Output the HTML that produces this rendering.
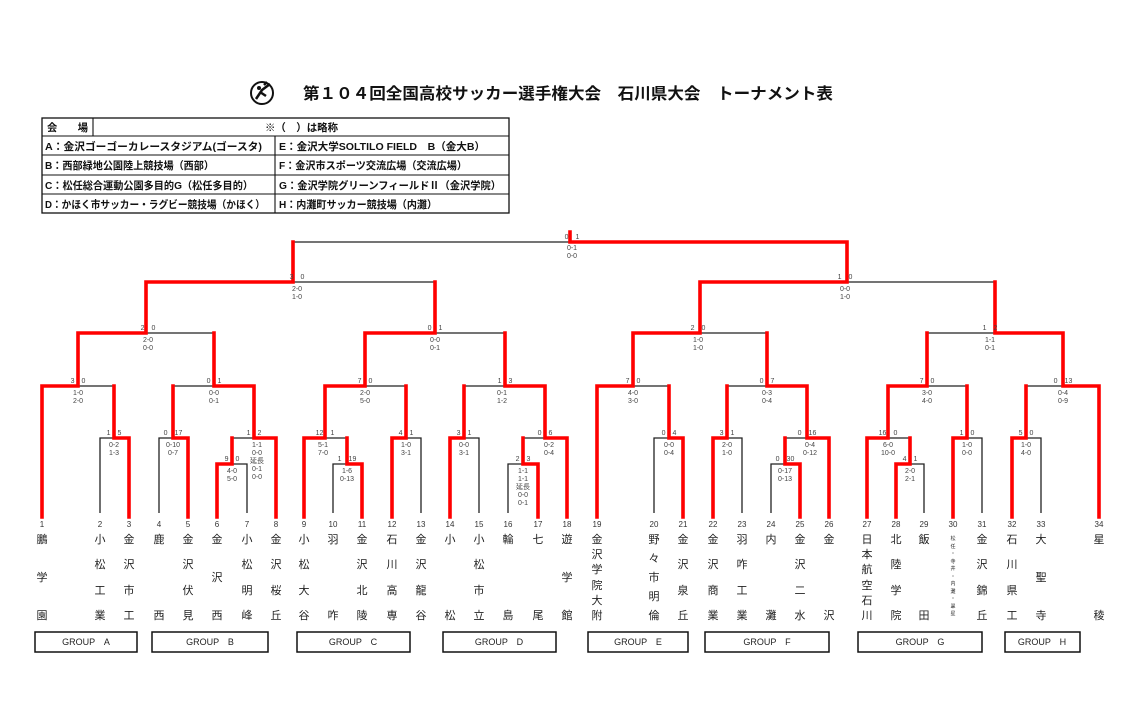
<!DOCTYPE html>
<html><head><meta charset="utf-8"><style>
body{margin:0;background:#fff;}
#w{position:relative;width:1142px;height:720px;overflow:hidden;background:#fff;font-family:"Liberation Sans","Noto Sans CJK JP",sans-serif;}
svg{position:absolute;left:0;top:0;}
.r{stroke:#f00;stroke-width:3.6;fill:none;stroke-linecap:square}
.k{stroke:#222;stroke-width:1.3;fill:none}
.s{font-size:7px;fill:#444;font-family:"Liberation Sans","Noto Sans CJK JP",sans-serif;text-anchor:middle}
.n{font-size:8px;fill:#333;text-anchor:middle}
.t{font-size:10.5px;font-weight:bold;fill:#111;font-family:"Liberation Sans","Noto Sans CJK JP",sans-serif}
.g{font-size:9px;fill:#222;text-anchor:middle}
.nm{position:absolute;top:533px;height:90px;width:16px;display:flex;flex-direction:column;justify-content:space-between;align-items:center;font-size:11px;color:#222;line-height:14px;}
.nm.tiny{font-size:5px;line-height:7px;top:536px;height:82px;}
</style></head><body><div id="w">
<svg width="1142" height="720" viewBox="0 0 1142 720">
<!-- logo -->
<circle cx="262" cy="93" r="11" fill="none" stroke="#111" stroke-width="2"/>
<path d="M256 99 L262 90 L270 84 M260 92 L266 96 M264 85 l3 -3" stroke="#111" stroke-width="2.5" fill="none"/>
<circle cx="259" cy="88" r="2" fill="#111"/>
<text x="303" y="99" font-size="16" font-weight="bold" fill="#111" textLength="530" lengthAdjust="spacingAndGlyphs" font-family="Liberation Sans, Noto Sans CJK JP, sans-serif">第１０４回全国高校サッカー選手権大会　石川県大会　トーナメント表</text>
<!-- table -->
<rect x="42" y="118" width="467" height="95" fill="none" stroke="#111" stroke-width="1.3"/>
<path d="M42 136H509M42 155H509M42 175H509M42 194H509M93 118V136M275 136V213" stroke="#111" stroke-width="1.1"/>
<text class="t" x="47" y="131" textLength="41" lengthAdjust="spacingAndGlyphs">会　　場</text>
<text class="t" x="265" y="131" textLength="73" lengthAdjust="spacingAndGlyphs">※（　）は略称</text>
<text class="t" x="45" y="150" textLength="217" lengthAdjust="spacingAndGlyphs">A：金沢ゴーゴーカレースタジアム(ゴースタ)</text>
<text class="t" x="279" y="150" textLength="206" lengthAdjust="spacingAndGlyphs">E：金沢大学SOLTILO FIELD　B（金大B）</text>
<text class="t" x="45" y="169" textLength="169" lengthAdjust="spacingAndGlyphs">B：西部緑地公園陸上競技場（西部）</text>
<text class="t" x="279" y="169" textLength="188" lengthAdjust="spacingAndGlyphs">F：金沢市スポーツ交流広場（交流広場）</text>
<text class="t" x="45" y="189" textLength="208" lengthAdjust="spacingAndGlyphs">C：松任総合運動公園多目的G（松任多目的）</text>
<text class="t" x="279" y="189" textLength="222" lengthAdjust="spacingAndGlyphs">G：金沢学院グリーンフィールドⅡ（金沢学院）</text>
<text class="t" x="45" y="208" textLength="220" lengthAdjust="spacingAndGlyphs">D：かほく市サッカー・ラグビー競技場（かほく）</text>
<text class="t" x="279" y="208" textLength="158" lengthAdjust="spacingAndGlyphs">H：内灘町サッカー競技場（内灘）</text>
<!-- black lines -->
<path class="k" d="M100 513V438H114M78 386H114M159 513V438H173M247 513V464H232M232 438H254M173 386H214M146 333H214M333 513V464H347M325 438H347M421 513V438H406M365 386H406M479 513V438H464M508 513V464H523M523 438H545M464 386H505M435 333H505M293 282H435M654 513V438H669M633 386H669M742 513V438H727M771 513V464H785M785 438H807M727 386H767M700 333H767M924 513V464H910M888 438H910M982 513V438H967M927 386H967M1041 513V438H1026M1026 386H1063M927 333H995M847 282H995M293 242H570"/>
<!-- red lines -->
<path class="r" d="M129 517V438H114V386M42 517V386H78V333M188 517V438H173V386M217 517V464H232V438M276 517V438H254V386M254 386H214V333M78 333H146V282M362 517V464H347V438M304 517V438H325V386M392 517V438H406V386M325 386H365V333M450 517V438H464V386M538 517V464H523V438M567 517V438H545V386M545 386H505V333M365 333H435V282M146 282H293V242M683 517V438H669V386M597 517V386H633V333M713 517V438H727V386M800 517V464H785V438M829 517V438H807V386M807 386H767V333M633 333H700V282M896 517V464H910V438M867 517V438H888V386M953 517V438H967V386M888 386H927V333M1012 517V438H1026V386M1099 517V386H1063V333M1063 333H995V282M700 282H847V242M847 242H570V232"/>
<!-- scores -->
<g class="s">
<text x="114" y="435">1　5</text><text x="114" y="447">0-2</text><text x="114" y="455">1-3</text>
<text x="78" y="383">3　0</text><text x="78" y="395">1-0</text><text x="78" y="403">2-0</text>
<text x="173" y="435">0　17</text><text x="173" y="447">0-10</text><text x="173" y="455">0-7</text>
<text x="232" y="461">9　0</text><text x="232" y="473">4-0</text><text x="232" y="481">5-0</text>
<text x="254" y="435">1　2</text><text x="257" y="447">1-1</text><text x="257" y="455">0-0</text><text x="257" y="463">延長</text><text x="257" y="471">0-1</text><text x="257" y="479">0-0</text>
<text x="214" y="383">0　1</text><text x="214" y="395">0-0</text><text x="214" y="403">0-1</text>
<text x="148" y="330">2　0</text><text x="148" y="342">2-0</text><text x="148" y="350">0-0</text>
<text x="347" y="461">1　19</text><text x="347" y="473">1-6</text><text x="347" y="481">0-13</text>
<text x="325" y="435">12　1</text><text x="323" y="447">5-1</text><text x="323" y="455">7-0</text>
<text x="406" y="435">4　1</text><text x="406" y="447">1-0</text><text x="406" y="455">3-1</text>
<text x="365" y="383">7　0</text><text x="365" y="395">2-0</text><text x="365" y="403">5-0</text>
<text x="464" y="435">3　1</text><text x="464" y="447">0-0</text><text x="464" y="455">3-1</text>
<text x="523" y="461">2　3</text><text x="523" y="473">1-1</text><text x="523" y="481">1-1</text><text x="523" y="489">延長</text><text x="523" y="497">0-0</text><text x="523" y="505">0-1</text>
<text x="545" y="435">0　6</text><text x="549" y="447">0-2</text><text x="549" y="455">0-4</text>
<text x="505" y="383">1　3</text><text x="502" y="395">0-1</text><text x="502" y="403">1-2</text>
<text x="435" y="330">0　1</text><text x="435" y="342">0-0</text><text x="435" y="350">0-1</text>
<text x="297" y="279">3　0</text><text x="297" y="291">2-0</text><text x="297" y="299">1-0</text>
<text x="669" y="435">0　4</text><text x="669" y="447">0-0</text><text x="669" y="455">0-4</text>
<text x="633" y="383">7　0</text><text x="633" y="395">4-0</text><text x="633" y="403">3-0</text>
<text x="727" y="435">3　1</text><text x="727" y="447">2-0</text><text x="727" y="455">1-0</text>
<text x="785" y="461">0　30</text><text x="785" y="473">0-17</text><text x="785" y="481">0-13</text>
<text x="807" y="435">0　16</text><text x="810" y="447">0-4</text><text x="810" y="455">0-12</text>
<text x="767" y="383">0　7</text><text x="767" y="395">0-3</text><text x="767" y="403">0-4</text>
<text x="698" y="330">2　0</text><text x="698" y="342">1-0</text><text x="698" y="350">1-0</text>
<text x="910" y="461">4　1</text><text x="910" y="473">2-0</text><text x="910" y="481">2-1</text>
<text x="888" y="435">16　0</text><text x="888" y="447">6-0</text><text x="888" y="455">10-0</text>
<text x="967" y="435">1　0</text><text x="967" y="447">1-0</text><text x="967" y="455">0-0</text>
<text x="927" y="383">7　0</text><text x="927" y="395">3-0</text><text x="927" y="403">4-0</text>
<text x="1026" y="435">5　0</text><text x="1026" y="447">1-0</text><text x="1026" y="455">4-0</text>
<text x="1063" y="383">0　13</text><text x="1063" y="395">0-4</text><text x="1063" y="403">0-9</text>
<text x="990" y="330">1　2</text><text x="990" y="342">1-1</text><text x="990" y="350">0-1</text>
<text x="845" y="279">1　0</text><text x="845" y="291">0-0</text><text x="845" y="299">1-0</text>
<text x="572" y="239">0　1</text><text x="572" y="250">0-1</text><text x="572" y="258">0-0</text>
</g>
<!-- numbers -->
<g class="n">
<text x="42" y="527">1</text><text x="100" y="527">2</text><text x="129" y="527">3</text><text x="159" y="527">4</text><text x="188" y="527">5</text><text x="217" y="527">6</text><text x="247" y="527">7</text><text x="276" y="527">8</text><text x="304" y="527">9</text><text x="333" y="527">10</text><text x="362" y="527">11</text><text x="392" y="527">12</text><text x="421" y="527">13</text><text x="450" y="527">14</text><text x="479" y="527">15</text><text x="508" y="527">16</text><text x="538" y="527">17</text><text x="567" y="527">18</text><text x="597" y="527">19</text><text x="654" y="527">20</text><text x="683" y="527">21</text><text x="713" y="527">22</text><text x="742" y="527">23</text><text x="771" y="527">24</text><text x="800" y="527">25</text><text x="829" y="527">26</text><text x="867" y="527">27</text><text x="896" y="527">28</text><text x="924" y="527">29</text><text x="953" y="527">30</text><text x="982" y="527">31</text><text x="1012" y="527">32</text><text x="1041" y="527">33</text><text x="1099" y="527">34</text>
</g>
<!-- groups -->
<g fill="none" stroke="#111" stroke-width="1.5">
<rect x="35" y="632" width="102" height="20"/><rect x="152" y="632" width="116" height="20"/><rect x="297" y="632" width="113" height="20"/><rect x="443" y="632" width="113" height="20"/><rect x="588" y="632" width="100" height="20"/><rect x="705" y="632" width="124" height="20"/><rect x="858" y="632" width="124" height="20"/><rect x="1005" y="632" width="75" height="20"/>
</g>
<g class="g">
<text x="86" y="645">GROUP　A</text><text x="210" y="645">GROUP　B</text><text x="353" y="645">GROUP　C</text><text x="499" y="645">GROUP　D</text><text x="638" y="645">GROUP　E</text><text x="767" y="645">GROUP　F</text><text x="920" y="645">GROUP　G</text><text x="1042" y="645">GROUP　H</text>
</g>
</svg>
<div class="nm" style="left:34px"><span>鵬</span><span>学</span><span>園</span></div>
<div class="nm" style="left:92px"><span>小</span><span>松</span><span>工</span><span>業</span></div>
<div class="nm" style="left:121px"><span>金</span><span>沢</span><span>市</span><span>工</span></div>
<div class="nm" style="left:151px"><span>鹿</span><span>西</span></div>
<div class="nm" style="left:180px"><span>金</span><span>沢</span><span>伏</span><span>見</span></div>
<div class="nm" style="left:209px"><span>金</span><span>沢</span><span>西</span></div>
<div class="nm" style="left:239px"><span>小</span><span>松</span><span>明</span><span>峰</span></div>
<div class="nm" style="left:268px"><span>金</span><span>沢</span><span>桜</span><span>丘</span></div>
<div class="nm" style="left:296px"><span>小</span><span>松</span><span>大</span><span>谷</span></div>
<div class="nm" style="left:325px"><span>羽</span><span>咋</span></div>
<div class="nm" style="left:354px"><span>金</span><span>沢</span><span>北</span><span>陵</span></div>
<div class="nm" style="left:384px"><span>石</span><span>川</span><span>高</span><span>専</span></div>
<div class="nm" style="left:413px"><span>金</span><span>沢</span><span>龍</span><span>谷</span></div>
<div class="nm" style="left:442px"><span>小</span><span>松</span></div>
<div class="nm" style="left:471px"><span>小</span><span>松</span><span>市</span><span>立</span></div>
<div class="nm" style="left:500px"><span>輪</span><span>島</span></div>
<div class="nm" style="left:530px"><span>七</span><span>尾</span></div>
<div class="nm" style="left:559px"><span>遊</span><span>学</span><span>館</span></div>
<div class="nm" style="left:589px"><span>金</span><span>沢</span><span>学</span><span>院</span><span>大</span><span>附</span></div>
<div class="nm" style="left:646px"><span>野</span><span>々</span><span>市</span><span>明</span><span>倫</span></div>
<div class="nm" style="left:675px"><span>金</span><span>沢</span><span>泉</span><span>丘</span></div>
<div class="nm" style="left:705px"><span>金</span><span>沢</span><span>商</span><span>業</span></div>
<div class="nm" style="left:734px"><span>羽</span><span>咋</span><span>工</span><span>業</span></div>
<div class="nm" style="left:763px"><span>内</span><span>灘</span></div>
<div class="nm" style="left:792px"><span>金</span><span>沢</span><span>二</span><span>水</span></div>
<div class="nm" style="left:821px"><span>金</span><span>沢</span></div>
<div class="nm" style="left:859px"><span>日</span><span>本</span><span>航</span><span>空</span><span>石</span><span>川</span></div>
<div class="nm" style="left:888px"><span>北</span><span>陸</span><span>学</span><span>院</span></div>
<div class="nm" style="left:916px"><span>飯</span><span>田</span></div>
<div class="nm tiny" style="left:945px"><span>松</span><span>任</span><span>・</span><span>寺</span><span>井</span><span>・</span><span>内</span><span>灘</span><span>・</span><span>翠</span><span>星</span></div>
<div class="nm" style="left:974px"><span>金</span><span>沢</span><span>錦</span><span>丘</span></div>
<div class="nm" style="left:1004px"><span>石</span><span>川</span><span>県</span><span>工</span></div>
<div class="nm" style="left:1033px"><span>大</span><span>聖</span><span>寺</span></div>
<div class="nm" style="left:1091px"><span>星</span><span>稜</span></div>
</div></body></html>
